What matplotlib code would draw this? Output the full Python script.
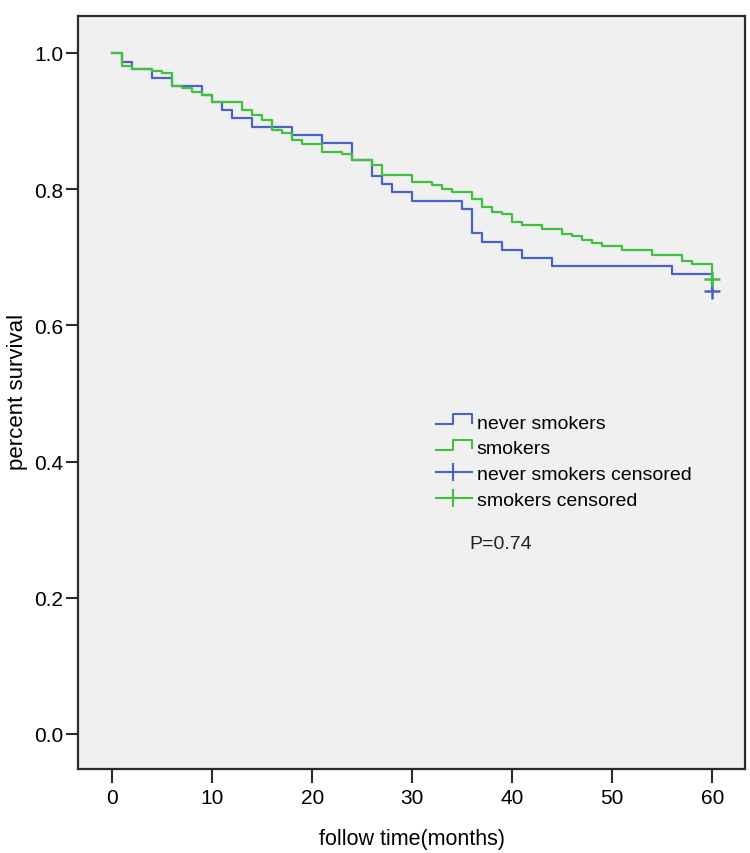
import matplotlib
matplotlib.use("Agg")
import matplotlib.pyplot as plt
from matplotlib.legend_handler import HandlerBase
from matplotlib.lines import Line2D

# Kaplan-Meier curves (months, survival)
never_t = [0, 1, 2, 4, 6, 9, 10, 11, 12, 14, 18, 21, 24, 26, 27, 28, 30, 35, 36,
           37, 39, 41, 44, 56, 60]
never_s = [1.0, 0.987, 0.976, 0.9635, 0.952, 0.939, 0.928, 0.916, 0.904, 0.891,
           0.880, 0.868, 0.843, 0.820, 0.808, 0.796, 0.783, 0.771, 0.736, 0.723,
           0.711, 0.699, 0.687, 0.675, 0.650]

smok_t = [0, 1, 2, 4, 5, 6, 7, 8, 9, 10, 13, 14, 15, 16, 17, 18, 19, 21, 23, 24,
          26, 27, 30, 32, 33, 34, 36, 37, 38, 39, 40, 41, 43, 45, 46, 47, 48, 49,
          51, 54, 57, 58, 60]
smok_s = [1.0, 0.981, 0.977, 0.974, 0.970, 0.952, 0.948, 0.943, 0.939, 0.928,
          0.916, 0.909, 0.901, 0.887, 0.883, 0.872, 0.866, 0.855, 0.851, 0.843,
          0.835, 0.821, 0.810, 0.806, 0.800, 0.796, 0.786, 0.774, 0.767, 0.763,
          0.752, 0.747, 0.741, 0.734, 0.731, 0.726, 0.721, 0.717, 0.710, 0.703,
          0.694, 0.690, 0.668]

# censored points
never_cens_t = [60]
never_cens_s = [0.650]
smok_cens_t = [60]
smok_cens_s = [0.668]

xticks = [0, 10, 20, 30, 40, 50, 60]
yticks = [0.0, 0.2, 0.4, 0.6, 0.8, 1.0]
labels = ["never smokers", "smokers", "never smokers censored", "smokers censored"]
p_text = "P=0.74"

blue = "#4a62c4"
green = "#3ec23e"
frame = "#2b2b2b"

narrow = ["Liberation Sans Narrow", "Liberation Sans", "DejaVu Sans"]
regular = ["Liberation Sans", "DejaVu Sans"]


class HandlerStep(HandlerBase):
    # step shaped glyph like spss legend
    def create_artists(self, legend, orig_handle, xdescent, ydescent,
                       width, height, fontsize, trans):
        x0 = -xdescent
        lo = -ydescent + height * 0.28
        hi = -ydescent + height * 1.0
        xm = x0 + width * 0.48
        xs = [x0, xm, xm, x0 + width, x0 + width]
        ys = [lo, lo, hi, hi, lo + height * 0.1]
        ln = Line2D(xs, ys, color=orig_handle.get_color(), lw=1.5,
                    transform=trans)
        return [ln]


class HandlerCross(HandlerBase):
    def create_artists(self, legend, orig_handle, xdescent, ydescent,
                       width, height, fontsize, trans):
        x0 = -xdescent
        yc = -ydescent + height * 0.5
        h = Line2D([x0, x0 + width], [yc, yc], color=orig_handle.get_color(),
                   lw=1.5, transform=trans)
        v = Line2D([x0 + width * 0.48] * 2, [yc - height * 0.6, yc + height * 0.6],
                   color=orig_handle.get_color(), lw=1.5, transform=trans)
        return [h, v]


fig = plt.figure(figsize=(7.5, 8.54), dpi=100)
ax = fig.add_axes([0.1044, 0.0984, 0.8889, 0.8821])
ax.set_facecolor("#f0f0f0")

l1, = ax.step(never_t, never_s, where="post", color=blue, lw=1.6)
l2, = ax.step(smok_t, smok_s, where="post", color=green, lw=1.6)
c1, = ax.plot(never_cens_t, never_cens_s, "+", color=blue, ms=11, mew=1.8)
c2, = ax.plot(smok_cens_t, smok_cens_s, "+", color=green, ms=11, mew=1.8)

ax.set_xlim(-3.4, 63.27)
ax.set_ylim(-0.0514, 1.0548)
ax.set_xticks(xticks)
ax.set_yticks(yticks)
ax.set_xticklabels([str(v) for v in xticks], family=narrow, fontsize=15)
ax.set_yticklabels(["%.1f" % v for v in yticks], family=narrow, fontsize=15)
ax.tick_params(axis="x", length=10, width=1.5, color=frame, pad=4)
ax.tick_params(axis="y", length=9, width=1.5, color=frame, pad=2)
for sp in ax.spines.values():
    sp.set_color(frame)
    sp.set_linewidth(1.6)

ax.set_xlabel("follow time(months)", family=regular, fontsize=15.5)
ax.set_ylabel("percent survival", family=regular, fontsize=16)
ax.xaxis.set_label_coords(0.5, -0.078)
ax.yaxis.set_label_coords(-0.076, 0.502)

leg = ax.legend([l1, l2, c1, c2], labels,
                handler_map={l1: HandlerStep(), l2: HandlerStep(),
                             c1: HandlerCross(), c2: HandlerCross()},
                loc="upper left", bbox_to_anchor=(0.5365, 0.471),
                frameon=False, borderpad=0, borderaxespad=0,
                handlelength=1.84, handletextpad=0.26, labelspacing=0.41,
                prop={"family": regular, "size": 14})

ax.text(0.5865, 0.2987, p_text, transform=ax.transAxes, ha="left", va="center",
        family=regular, fontsize=14, color="#222222")

fig.savefig("out.png", dpi=100)
